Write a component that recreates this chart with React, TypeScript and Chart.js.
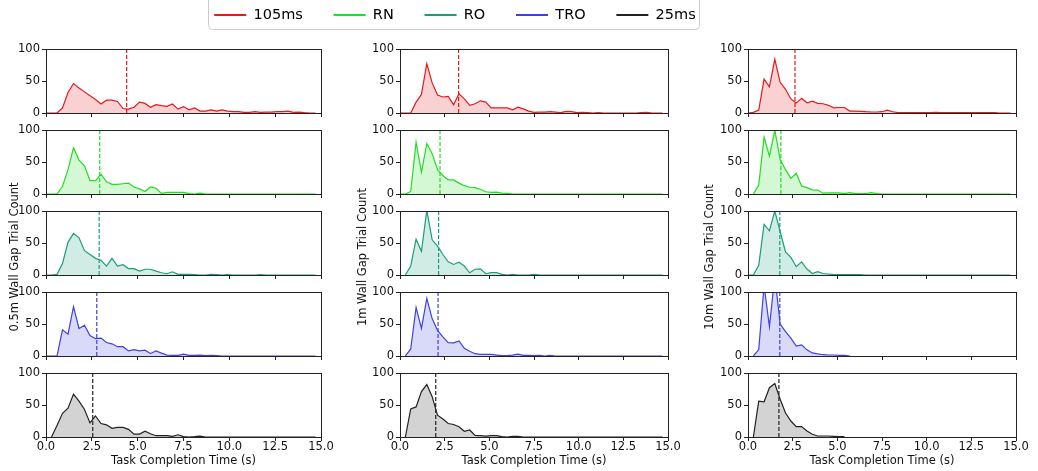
import React, { useEffect, useRef } from 'react';
import { Chart, registerables } from 'chart.js';

Chart.register(...registerables);

const FONT = "'DejaVu Sans', 'Liberation Sans', sans-serif";
Chart.defaults.font.family = FONT;

// ---------------- data ----------------
const seriesNames = ['105ms', 'RN', 'RO', 'TRO', '25ms'];
const gapLabels = ['0.5m Wall Gap Trial Count', '1m Wall Gap Trial Count', '10m Wall Gap Trial Count'];
const xTitle = 'Task Completion Time (s)';

// left edges of the 0.3 s histogram bins (seconds)
const binStarts = [0, 0.3, 0.6, 0.9, 1.2, 1.5, 1.8, 2.1, 2.4, 2.7, 3.0, 3.3, 3.6, 3.9, 4.2, 4.5, 4.8, 5.1, 5.4, 5.7, 6.0, 6.3, 6.6, 6.9, 7.2, 7.5, 7.8, 8.1, 8.4, 8.7, 9.0, 9.3, 9.6, 9.9, 10.2, 10.5, 10.8, 11.1, 11.4, 11.7, 12.0, 12.3, 12.6, 12.9, 13.2, 13.5, 13.8, 14.1, 14.4, 14.7];

// 0.5 m wall gap
const red05 = [0, 0, 0, 8, 32, 46, 39, 33, 27, 21, 14, 20, 20, 18, 7, 6, 9, 17, 15, 9, 13, 11.5, 10.5, 14, 6, 10, 5, 8, 3, 3, 5, 3, 5, 3, 2, 2, 1, 1, 2, 1, 1.5, 1.5, 2, 2, 3, 1, 1.5, 0.5, 0, 0];
const green05 = [0, 0, 0, 12, 38, 72, 53, 44, 21, 21, 31, 19, 15, 15, 16, 17, 11, 8, 4, 11, 9, 1, 2.5, 2.5, 2.5, 2.5, 0.5, 0, 1.5, 0, 0, 0, 0, 0, 0, 0, 0, 0, 0, 0, 0, 0, 0, 0, 0, 0, 0, 0, 0, 0];
const teal05 = [0, 0, 1, 18, 51, 65, 58, 38, 32, 26, 23, 14, 26, 14, 16, 10, 10, 6, 9, 9, 6, 3.5, 2, 5, 1, 1, 1, 0.5, 0, 0, 1, 0.5, 0, 0.5, 0, 0, 0, 0, 0, 0.5, 0, 0, 0, 0, 0, 0, 0, 0, 0, 0];
const blue05 = [0, 0, 0, 41, 34, 77, 43, 48, 32, 27, 28, 21, 19, 14.5, 14.5, 8, 10, 8, 9, 4, 8, 4.5, 1.5, 1, 1, 3, 1, 1, 1.5, 0.5, 1, 0.5, 0, 0, 0, 0, 0, 0, 0, 0, 0, 0, 0, 0, 0, 0, 0, 0, 0, 0];
const black05 = [null, 0, 18, 37, 45, 67, 56, 43, 22, 33, 21, 19, 13.5, 15, 15, 12, 4.5, 4.5, 9, 5, 2, 2, 2, 1, 3.5, 0.5, 0, 0.5, 1.5, 0, 0, 0, 0, 0, 0, 0, 0, 0, 0, 0, 0, 0, 0, 0, 0, 0, 0, 0, 0, 0];
const medians05 = [4.4, 2.93, 2.9, 2.77, 2.55];

// 1 m wall gap
const red1 = [0, 0, 0, 17, 29, 77, 47, 28, 25, 26, 13, 30, 22, 12, 14.5, 19, 17, 8, 8, 8, 8, 5, 9, 6.5, 3, 1, 1.5, 1.5, 2, 1.5, 0.5, 2.6, 2, 0.5, 1, 0.5, 0, 0.5, 0, 0, 0, 0, 0, 0, 0, 0.5, 1, 0, 0, 0];
const green1 = [0, 0, 4, 81, 34, 79, 63, 38, 29, 22, 22, 17, 13, 10.5, 10, 7.5, 3.5, 2.5, 3, 1.5, 1, 0, 0, 0, 0, 0, 0, 0, 0, 0, 0, 0, 0, 0, 0, 0, 0, 0, 0, 0, 0, 0, 0, 0, 0, 0, 0, 0, 0, 0];
const teal1 = [null, 0, 14, 56, 37, 101, 55, 45, 32, 20.5, 16.5, 20, 14, 3.5, 9, 9.5, 2, 3.6, 3.6, 1, 0, 1, 0, 0, 0, 1, 0, 0, 0, 0, 0, 0, 0, 0, 0, 0, 0, 0, 0, 0, 0, 0, 0, 0, 0, 0, 0, 0, 0, 0];
const blue1 = [null, 0, 11, 76, 43, 90, 58.5, 40, 30, 21, 20.5, 23.5, 12, 7.5, 3.6, 2.6, 2.6, 2.6, 1.5, 0.5, 0.5, 1.5, 3, 1, 1, 0.5, 1, 0, 1, 0, 0, 0, 0, 0, 0, 0, 0, 0, 0, 0, 0, 0, 0, 0, 0, 0, 0, 0, 0, 0];
const black1 = [null, 0, 44, 47, 71, 82, 63, 34, 28, 21, 19.5, 16, 9, 11, 2.3, 2, 1.5, 2, 2, 0.5, 0, 1, 1, 0, 0, 0, 0, 0, 0, 0, 0, 0, 0, 0, 0, 0, 0, 0, 0, 0, 0, 0, 0, 0, 0, 0, 0, 0, 0, 0];
const medians1 = [3.28, 2.24, 2.16, 2.13, 2.0];

// 10 m wall gap
const red10 = [0, 1, 4.5, 53, 41, 84, 48, 37, 22, 15.5, 23, 16, 18.5, 15, 14.5, 12, 8, 8.6, 8.6, 3, 3, 2.6, 2, 1.6, 1.6, 2, 4.5, 2, 0.7, 0.5, 0.5, 0.5, 0.5, 0.5, 0.5, 1, 0.5, 0.5, 0.5, 0.5, 0.5, 0.5, 0.5, 0.5, 0.5, 0.5, 0.5, 0, 0, 0];
const green10 = [null, 0, 14, 89, 59, 100, 54, 38, 24.5, 32.5, 12.5, 10, 6.5, 6.2, 1.3, 1.8, 1.8, 1.8, 0.5, 2, 0.5, 0.5, 0.5, 2, 0.5, 0, 0, 0, 0, 0, 0, 0, 0, 0, 0, 0, 0, 0, 0, 0, 0, 0, 0, 0, 0, 0, 0, 0, 0, 0];
const teal10 = [0, 0, 15, 79, 69, 100, 68, 36, 27.5, 13, 20.5, 9.3, 2.3, 5.1, 2.3, 1.6, 0.5, 0.5, 0.5, 0.5, 0.5, 0.5, 0, 0, 0, 0, 0, 0, 0, 0, 0, 0, 0, 0, 0, 0, 0, 0, 0, 0, 0, 0, 0, 0, 0, 0, 0, 0, 0, 0];
const blue10 = [null, 0, 10, 110, 46, 125, 50, 38, 28, 15.5, 17.5, 9.6, 4.8, 3.2, 2, 1.6, 1.6, 1, 1, 0, null, null, null, null, null, null, null, null, null, null, null, null, null, null, null, null, null, null, null, null, null, null, null, null, null, null, null, null, null, null];
const black10 = [null, 0, 56, 55, 77, 83.5, 59, 37.5, 25, 16.3, 16.3, 9.3, 4.2, 1.6, 1.6, 1.6, 1, 0.5, 0.5, null, null, null, null, null, null, null, null, null, null, null, null, null, null, null, null, null, null, null, null, null, null, null, null, null, null, null, null, null, null, null];
const medians10 = [2.63, 1.84, 1.78, 1.78, 1.73];

const columnSeries = [
  [red05, green05, teal05, blue05, black05],
  [red1, green1, teal1, blue1, black1],
  [red10, green10, teal10, blue10, black10],
];
const columnMedians = [medians05, medians1, medians10];

// ---------------- styles / layout ----------------
const lineColors = ['#e41a1c', '#22dd22', '#1b9e77', '#4040e0', '#222222'];
const fillColors = ['rgba(228,26,28,0.2)', 'rgba(34,221,34,0.2)', 'rgba(27,158,119,0.2)', 'rgba(64,64,224,0.2)', 'rgba(34,34,34,0.2)'];
const AX = '#222222';
const TXT = '#111111';

const COLS = [
  { left: 0, axisW: 46, plotW: 275, labelX: 15 },
  { left: 355, axisW: 45, plotW: 268, labelX: 363 },
  { left: 703, axisW: 45, plotW: 268, labelX: 710 },
];
const ROW_TOPS = [49, 130, 211, 292, 373];
const PLOT_H = 64;
const RIGHT_PAD = 14;
const LABEL_Y = 257;
const PAGE_H = 471;

const framePlugin = {
  id: 'panelFrame',
  afterDraw(chart: any) {
    const { left, top, right, bottom } = chart.chartArea;
    const ctx = chart.ctx;
    const a = (v: number) => Math.round(v - 0.5) + 0.5;
    ctx.save();
    ctx.strokeStyle = AX;
    ctx.lineWidth = 1;
    ctx.strokeRect(a(left), a(top), a(right) - a(left), a(bottom) - a(top));
    ctx.restore();
  },
};

type PanelProps = {
  colIdx: number;
  rowIdx: number;
  values: (number | null)[];
  median: number;
};

function Panel({ colIdx, rowIdx, values, median }: PanelProps) {
  const ref = useRef<HTMLCanvasElement>(null);
  const col = COLS[colIdx];
  const isBottom = rowIdx === 4;
  const hasLabel = rowIdx === 2;
  const plotTop = ROW_TOPS[rowIdx];
  let padTop = 8;
  let padBottom = 0;
  let xH = 8;
  if (isBottom) xH = PAGE_H - (plotTop + PLOT_H);
  if (hasLabel) {
    padTop = 40;
    padBottom = 60;
  }
  const canvasTop = plotTop - padTop;
  const width = col.axisW + col.plotW + RIGHT_PAD;
  const height = padTop + PLOT_H + xH + padBottom;

  useEffect(() => {
    if (!ref.current) return;
    const plugins: any[] = [framePlugin];
    if (hasLabel) {
      plugins.push({
        id: 'gapLabel',
        afterDraw(chart: any) {
          const ctx = chart.ctx;
          ctx.save();
          ctx.translate(col.labelX - col.left, LABEL_Y - canvasTop);
          ctx.rotate(-Math.PI / 2);
          ctx.font = `11.5px ${FONT}`;
          ctx.fillStyle = TXT;
          ctx.textAlign = 'center';
          ctx.textBaseline = 'middle';
          ctx.fillText(gapLabels[colIdx], 0, 0);
          ctx.restore();
        },
      });
    }
    const tickFont = { size: 11.5, family: FONT, lineHeight: 1 };
    const chart = new Chart(ref.current, {
      type: 'line',
      data: {
        datasets: [
          {
            data: [
              { x: median, y: 0 },
              { x: median, y: 100 },
            ],
            borderColor: lineColors[rowIdx],
            borderWidth: 1.2,
            borderDash: [4, 2],
            pointRadius: 0,
            fill: false,
            order: 0,
          },
          {
            data: binStarts.map((b, i) => ({ x: b, y: values[i] })),
            borderColor: lineColors[rowIdx],
            backgroundColor: fillColors[rowIdx],
            borderWidth: 1.2,
            pointRadius: 0,
            fill: 'origin',
            tension: 0,
            order: 1,
          },
        ],
      } as any,
      options: {
        animation: false,
        responsive: false,
        events: [],
        layout: { padding: { top: padTop, bottom: padBottom, left: 0, right: RIGHT_PAD } },
        plugins: { legend: { display: false }, tooltip: { enabled: false } },
        scales: {
          x: {
            type: 'linear',
            min: 0,
            max: 15,
            afterFit: (s: any) => {
              s.height = xH;
            },
            border: { display: false },
            grid: { display: true, drawOnChartArea: false, drawTicks: true, tickLength: 4, color: AX, lineWidth: 1 },
            ticks: {
              display: isBottom,
              stepSize: 2.5,
              padding: 0,
              color: TXT,
              font: tickFont,
              maxRotation: 0,
              autoSkip: false,
              callback: (v: any) => Number(v).toFixed(1),
            },
            title: {
              display: isBottom,
              text: xTitle,
              color: TXT,
              font: { size: 11.5, family: FONT, lineHeight: 1 },
              padding: { top: 0, bottom: 4.25 },
            },
          },
          y: {
            type: 'linear',
            min: 0,
            max: 100,
            afterFit: (s: any) => {
              s.width = col.axisW;
            },
            border: { display: false },
            grid: { display: true, drawOnChartArea: false, drawTicks: true, tickLength: 4, color: AX, lineWidth: 1 },
            ticks: { stepSize: 50, padding: 2, color: TXT, font: tickFont },
          },
        },
      } as any,
      plugins,
    });
    return () => chart.destroy();
  }, []);

  return (
    <canvas
      ref={ref}
      width={width}
      height={height}
      style={{ position: 'absolute', left: col.left, top: canvasTop, width, height }}
    />
  );
}

const legendFrame = {
  id: 'legendFrame',
  beforeDraw(chart: any) {
    const hb = chart.legend && chart.legend.legendHitBoxes;
    if (!hb || !hb.length) return;
    const last = hb[hb.length - 1];
    const l = Math.round(hb[0].left - 6) + 0.5;
    const r = Math.round(last.left + last.width + 3) + 0.5;
    const t = 2.5;
    const b = Math.round(hb[0].top + hb[0].height + 7) + 0.5;
    const rad = 4;
    const ctx = chart.ctx;
    ctx.save();
    ctx.beginPath();
    ctx.moveTo(l + rad, t);
    ctx.lineTo(r - rad, t);
    ctx.arcTo(r, t, r, t + rad, rad);
    ctx.lineTo(r, b - rad);
    ctx.arcTo(r, b, r - rad, b, rad);
    ctx.lineTo(l + rad, b);
    ctx.arcTo(l, b, l, b - rad, rad);
    ctx.lineTo(l, t + rad);
    ctx.arcTo(l, t, l + rad, t, rad);
    ctx.closePath();
    ctx.fillStyle = 'rgba(255,255,255,0.8)';
    ctx.fill();
    ctx.strokeStyle = '#cccccc';
    ctx.lineWidth = 1;
    ctx.stroke();
    ctx.restore();
  },
};

function LegendChart() {
  const ref = useRef<HTMLCanvasElement>(null);
  const W = 700;
  const H = 120;
  useEffect(() => {
    if (!ref.current) return;
    const chart = new Chart(ref.current, {
      type: 'line',
      data: {
        datasets: seriesNames.map((n, i) => ({
          label: n,
          data: [],
          borderColor: lineColors[i],
          backgroundColor: lineColors[i],
        })),
      },
      options: {
        animation: false,
        responsive: false,
        events: [],
        layout: { padding: 0 },
        scales: { x: { display: false }, y: { display: false } },
        plugins: {
          tooltip: { enabled: false },
          legend: {
            display: true,
            position: 'top',
            align: 'center',
            labels: {
              boxWidth: 32,
              boxHeight: 2,
              padding: 30.75,
              color: TXT,
              font: { size: 14.5, family: FONT },
              generateLabels: () =>
                seriesNames.map((n, i) => ({
                  text: n,
                  fillStyle: lineColors[i],
                  strokeStyle: lineColors[i],
                  lineWidth: 0,
                  hidden: false,
                  datasetIndex: i,
                })),
            },
          },
        },
      } as any,
      plugins: [legendFrame],
    });
    return () => chart.destroy();
  }, []);
  return (
    <canvas
      ref={ref}
      width={W}
      height={H}
      style={{ position: 'absolute', left: 105, top: -23, width: W, height: H }}
    />
  );
}

export default function App() {
  return (
    <div>
      {columnSeries.map((series, ci) =>
        series.map((vals, ri) => (
          <Panel key={`${ci}-${ri}`} colIdx={ci} rowIdx={ri} values={vals} median={columnMedians[ci][ri]} />
        ))
      )}
      <LegendChart />
    </div>
  );
}
